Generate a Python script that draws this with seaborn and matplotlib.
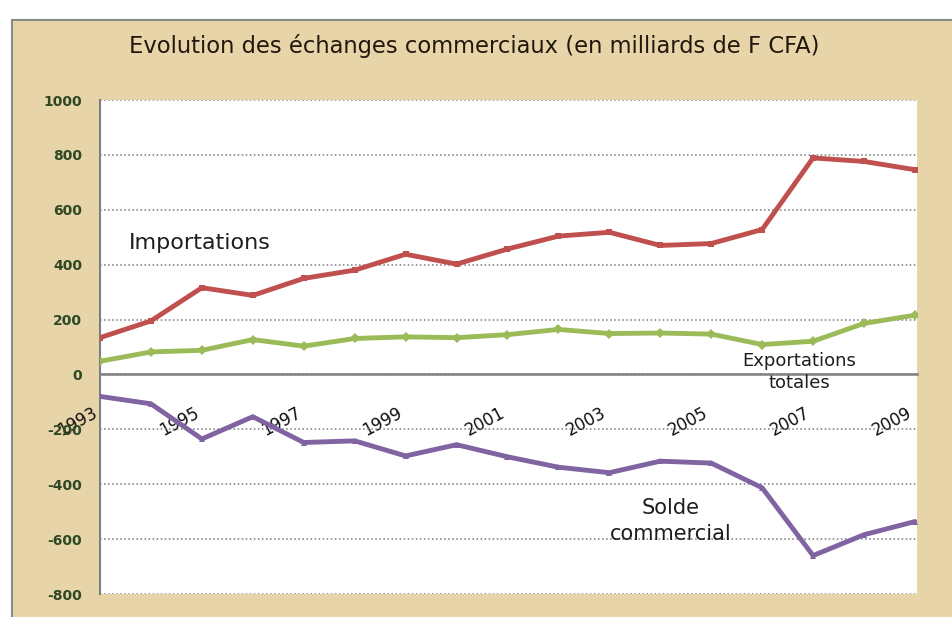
import pandas as pd
import matplotlib.pyplot as plt
import seaborn as sns
from matplotlib.patches import Rectangle

# donnees (milliards de F CFA)
annees = list(range(1993, 2010))
importations = [134, 195, 316, 288, 350, 380, 438, 402, 457, 504, 518, 470, 477, 528, 789, 776, 746]
exportations = [48, 82, 88, 127, 103, 131, 137, 134, 145, 164, 149, 151, 147, 109, 121, 186, 216]
solde = [-80, -107, -235, -154, -248, -242, -297, -256, -300, -338, -358, -316, -323, -413, -660, -584, -536]

series = ['Importations', 'Exportations totales', 'Solde commercial']
couleurs = ['#C0504D', '#9BBB59', '#8064A2']
annees_affichees = list(range(1993, 2010, 2))
graduations_y = list(range(-800, 1001, 200))

df = pd.DataFrame({
    'annee': annees * 3,
    'valeur': importations + exportations + solde,
    'serie': [series[0]] * 17 + [series[1]] * 17 + [series[2]] * 17,
})

sns.set_theme(style='white')
plt.rcParams['font.family'] = ['DejaVu Sans']
plt.rcParams['axes.unicode_minus'] = False

fig = plt.figure(figsize=(9.53, 6.17), dpi=100)
fig.patch.set_facecolor('white')
# fond parchemin du cadre
fig.add_artist(Rectangle((12 / 953, -0.01), 1.0, (617 - 20) / 617 + 0.01,
                         transform=fig.transFigure, facecolor='#E7D5A9',
                         edgecolor='#8a8a8a', lw=1.5, zorder=0))

ax = fig.add_axes([100 / 953, 1 - 594 / 617, 817 / 953, 494 / 617])
ax.set_facecolor('white')

sns.lineplot(data=df, x='annee', y='valeur', hue='serie', style='serie',
             palette=dict(zip(series, couleurs)),
             markers={series[0]: 's', series[1]: 'D', series[2]: '^'},
             dashes=False, lw=3.5, markersize=5, markeredgewidth=0,
             legend=False, ax=ax, zorder=3)

# axe des abscisses sur la ligne zero (avant les reglages des ticks)
for s in ['top', 'right']:
    ax.spines[s].set_visible(False)
ax.spines['bottom'].set_position(('data', 0))
ax.spines['bottom'].set_color('#7f7f7f')
ax.spines['bottom'].set_linewidth(1.8)
ax.spines['bottom'].set_zorder(2)
ax.spines['left'].set_color('#7f7f7f')
ax.spines['left'].set_linewidth(1.5)

ax.set_xlim(1993, 2009.04)
ax.set_ylim(-800, 1000)
ax.tick_params(axis='y', length=0, pad=13)
ax.tick_params(axis='x', length=0, pad=21)
ax.set_yticks(graduations_y)
ax.set_yticklabels([str(v) for v in graduations_y], fontsize=10,
                   fontweight='bold', color='#2E4824')
ax.set_xticks(annees_affichees)
ax.set_xticklabels([str(a) for a in annees_affichees], fontsize=12,
                   color='#111111')
plt.setp(ax.get_xticklabels(), rotation=28, ha='right')
ax.set_xlabel('')
ax.set_ylabel('')

ax.yaxis.grid(True, ls=':', color='#7a7a7a', lw=1.1)
ax.xaxis.grid(False)

# etiquettes des series
ax.text(1994.95, 479, 'Importations', fontsize=16, color='#1e1e1e',
        ha='center', va='center')
ax.text(2006.73, 9, 'Exportations\ntotales', fontsize=13, color='#1e1e1e',
        ha='center', va='center', linespacing=1.35)
ax.text(2004.2, -534, 'Solde\ncommercial', fontsize=15, color='#1e1e1e',
        ha='center', va='center', linespacing=1.35)

fig.text(0.498, 1 - 46 / 617,
         'Evolution des échanges commerciaux (en milliards de F CFA)',
         fontsize=16.3, color='#21170C', ha='center', va='center')

plt.savefig('out.png', dpi=100)
